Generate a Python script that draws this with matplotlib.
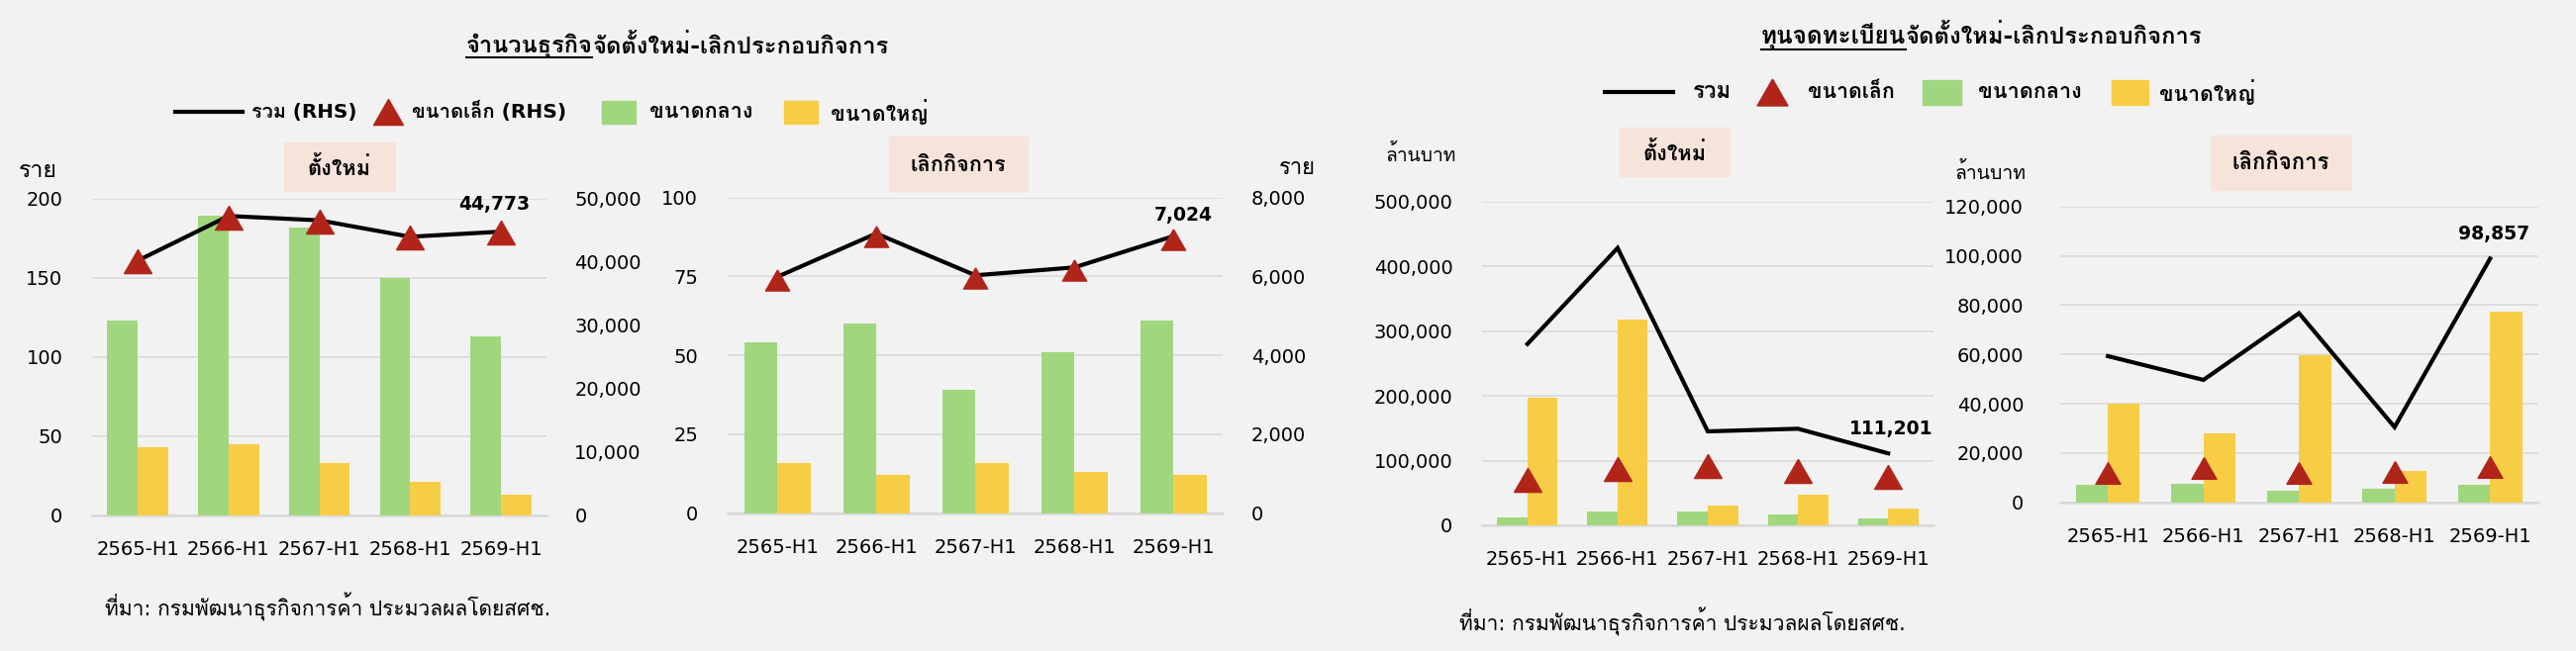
import numpy as np
import matplotlib
matplotlib.use('Agg')
import matplotlib.pyplot as plt
from matplotlib import font_manager
from matplotlib.patches import Rectangle
from matplotlib.lines import Line2D
from matplotlib.ticker import FuncFormatter

periods = ['2565-H1', '2566-H1', '2567-H1', '2568-H1', '2569-H1']

# จำนวนธุรกิจ (ราย) - bars on left axis, line/triangles on RHS
new_mid = [123, 189, 182, 150, 113]
new_large = [43, 45, 33, 21, 13]
new_small = [40040, 47020, 46340, 43800, 44630]
new_total = [40200, 47250, 46560, 43970, 44773]

close_mid = [54, 60, 39, 51, 61]
close_large = [16, 12, 16, 13, 12]
close_small = [5920, 7020, 5960, 6160, 6950]
close_total = [5990, 7090, 6030, 6230, 7024]

# ทุนจดทะเบียน (ล้านบาท)
cap_new_mid = [12700, 21400, 21900, 16800, 10200]
cap_new_large = [196600, 318200, 30600, 46900, 25500]
cap_new_small = [70300, 87500, 91300, 83800, 74400]
cap_new_total = [280000, 428200, 145100, 149200, 111201]

cap_close_mid = [7100, 7500, 4700, 5350, 6970]
cap_close_large = [40100, 28000, 59700, 12700, 77400]
cap_close_small = [11800, 13900, 12000, 12300, 14200]
cap_close_total = [59300, 49650, 76700, 30500, 98857]

BG = '#F2F2F2'
GREEN = '#A0D77E'
YELLOW = '#F8CD46'
RED = '#B0241A'
GRID = '#D9D9D9'
BOX = '#F6E4DA'
TRI = [(0, 0.87), (-1, -0.87), (1, -0.87), (0, 0.87)]
W, H = 2602, 658


def find_thai_font():
    from fontTools.ttLib import TTFont
    found = {}
    for f in font_manager.fontManager.ttflist:
        try:
            tt = TTFont(f.fname, fontNumber=0, lazy=True)
            cmap = tt.getBestCmap()
            if cmap and 0x0E01 in cmap:
                w = f.weight if isinstance(f.weight, int) else 400
                found.setdefault(f.name, set()).add(w)
        except Exception:
            continue
    if not found:
        return None
    prefs = ['Tahoma', 'Noto Sans Thai', 'Noto Sans Thai UI', 'Loma', 'Garuda', 'Sarabun']
    bold = [n for n in found if max(found[n]) >= 600]
    for pref in prefs:
        if pref in bold:
            return pref
    for pref in prefs:
        if pref in found:
            return pref
    return bold[0] if bold else list(found)[0]


thai = find_thai_font()
plt.rcParams['font.family'] = ['DejaVu Sans'] + ([thai] if thai else [])

fig = plt.figure(figsize=(W / 100, H / 100), dpi=100, facecolor=BG)
renderer = fig.canvas.get_renderer()


def px_rect(x0, y0, x1, y1):
    return [x0 / W, 1 - y1 / H, (x1 - x0) / W, (y1 - y0) / H]


def ftext(x, y, s, width=None, **kw):
    kw.setdefault('va', 'center')
    kw.setdefault('ha', 'center')
    t = fig.text(x / W, 1 - y / H, s, **kw)
    if width:
        # match the width the text has in the reference
        w = t.get_window_extent(renderer).width
        t.set_fontsize(t.get_fontsize() * width / w)
    return t


def style(ax, ymax, step, pad):
    ax.set_facecolor('none')
    for s in ax.spines.values():
        s.set_visible(False)
    ax.set_ylim(0, ymax)
    ax.set_yticks(np.arange(0, ymax + 1, step))
    ax.yaxis.set_major_formatter(FuncFormatter(lambda v, p: f'{v:,.0f}'))
    ax.tick_params(axis='y', length=0, labelsize=14, pad=pad)
    ax.tick_params(axis='x', length=0, labelsize=14, pad=18)


def panel(rect, mid, large, small, total, ymax, step, pad, rhs=None, ms=20, lab_off=(0, 18)):
    ax = fig.add_axes(rect)
    x = np.arange(len(periods))
    w = 0.335
    ax.bar(x - w / 2, mid, w, color=GREEN, zorder=2)
    ax.bar(x + w / 2, large, w, color=YELLOW, zorder=2)
    ax.set_xticks(x, periods)
    ax.set_xlim(-0.5, len(periods) - 0.5)
    style(ax, ymax, step, pad)
    ax.grid(axis='y', color=GRID, lw=1.2, zorder=0)
    ax.set_axisbelow(True)
    ax.axhline(0, color=GRID, lw=1.8, clip_on=False, zorder=1)
    lax = ax
    if rhs:
        lax = ax.twinx()
        style(lax, rhs[0], rhs[1], 20.5)
        lax.set_xlim(-0.5, len(periods) - 0.5)
    lax.plot(x, total, color='black', lw=3, zorder=3, solid_joinstyle='miter')
    lax.plot(x, small, ls='none', marker=TRI, ms=ms, color=RED, zorder=4)
    lax.annotate(f'{total[-1]:,}', (x[-1], total[-1]), xytext=lab_off, textcoords='offset points',
                 ha='center', va='center', fontsize=13.5, fontweight='bold')
    return ax


panel(px_rect(93.3, 200.7, 551.8, 520.7), new_mid, new_large, new_small, new_total,
      200, 50, 21.5, rhs=(50000, 10000), ms=20, lab_off=(-5, 20))
panel(px_rect(735, 199.7, 1235.4, 518.7), close_mid, close_large, close_small, close_total,
      100, 25, 21.5, rhs=(8000, 2000), ms=17.5, lab_off=(7, 15))
panel(px_rect(1497.3, 203.7, 1952.7, 531), cap_new_mid, cap_new_large, cap_new_small, cap_new_total,
      500000, 100000, 21.5, ms=20, lab_off=(2, 18))
panel(px_rect(2080.9, 208.7, 2563.5, 507.7), cap_close_mid, cap_close_large, cap_close_small, cap_close_total,
      120000, 20000, 26.5, ms=18, lab_off=(3, 18))

# section boxes
for (x0, y0, x1, y1, s, tw) in [(287.3, 144.3, 398.8, 193.3, 'ตั้งใหม่', 64),
                                 (897.7, 138, 1038.4, 193.3, 'เลิกกิจการ', 97),
                                 (1635.7, 129.3, 1747.3, 177.7, 'ตั้งใหม่', 64),
                                 (2233, 136.7, 2374.6, 191.7, 'เลิกกิจการ', 98.5)]:
    fig.add_artist(Rectangle((x0 / W, 1 - y1 / H), (x1 - x0) / W, (y1 - y0) / H,
                             transform=fig.transFigure, color=BOX, zorder=0))
    ftext((x0 + x1) / 2, (y0 + y1) / 2 + 1, s, width=tw, fontsize=15, fontweight='bold')

# unit labels
ftext(38, 172.7, 'ราย', width=39, fontsize=14)
ftext(1310, 170, 'ราย', width=37, fontsize=14)
ftext(1435, 156.7, 'ล้านบาท', width=71, fontsize=14)
ftext(2010, 174, 'ล้านบาท', width=72, fontsize=14)

# source notes
note = 'ที่มา: กรมพัฒนาธุรกิจการค้า ประมวลผลโดยสศช.'
ftext(105.7, 613.3, note, width=450, fontsize=14, ha='left')
ftext(1474, 628.3, note, width=451, fontsize=14, ha='left')


# titles with underlined first part
def title(x, y, yu, underlined, rest, w1, w2):
    t = ftext(x, y, underlined, width=w1, fontsize=16, fontweight='bold', ha='left')
    bb = t.get_window_extent(renderer)
    ftext(bb.x1, y, rest, width=w2, fontsize=16, fontweight='bold', ha='left')
    fig.add_artist(Line2D([bb.x0 / W, bb.x1 / W], [1 - yu / H] * 2, color='black', lw=1.5))


title(470.6, 46.7, 58.3, 'จำนวนธุรกิจ', 'จัดตั้งใหม่-เลิกประกอบกิจการ', 128.5, 300)
title(1778.6, 36.7, 50, 'ทุนจดทะเบียน', 'จัดตั้งใหม่-เลิกประกอบกิจการ', 146.4, 300.6)


# legends
def legend(y, items, sq_h):
    for kind, x0, x1, tx, label, tw in items:
        yy = 1 - y / H
        if kind == 'line':
            fig.add_artist(Line2D([x0 / W, x1 / W], [yy, yy], color='black', lw=3))
        elif kind == 'tri':
            fig.add_artist(Line2D([(x0 + x1) / 2 / W], [yy], ls='none', marker=TRI,
                                  ms=(x1 - x0) * 0.72, color=RED))
        else:
            fig.add_artist(Rectangle((x0 / W, 1 - (y + sq_h / 2) / H), (x1 - x0) / W, sq_h / H,
                                     transform=fig.transFigure, color=kind))
        ftext(tx, y, label, width=tw, fontsize=15, fontweight='bold', ha='left')


legend(113, [('line', 177.4, 244.6, 253.7, 'รวม (RHS)', 106),
             ('tri', 377, 407, 415.8, 'ขนาดเล็ก (RHS)', 156),
             (GREEN, 608, 642, 656, 'ขนาดกลาง', 104.5),
             (YELLOW, 791.5, 826, 839.4, 'ขนาดใหญ่', 98)], 23)
legend(93.3, [('line', 1621.4, 1689.7, 1709.8, 'รวม', 39),
              ('tri', 1774, 1805, 1826, 'ขนาดเล็ก', 88),
              (GREEN, 1942, 1980.8, 1997.6, 'ขนาดกลาง', 105),
              (YELLOW, 2132.8, 2169.5, 2181, 'ขนาดใหญ่', 97)], 25)

fig.savefig('out.png', dpi=100, facecolor=BG)
